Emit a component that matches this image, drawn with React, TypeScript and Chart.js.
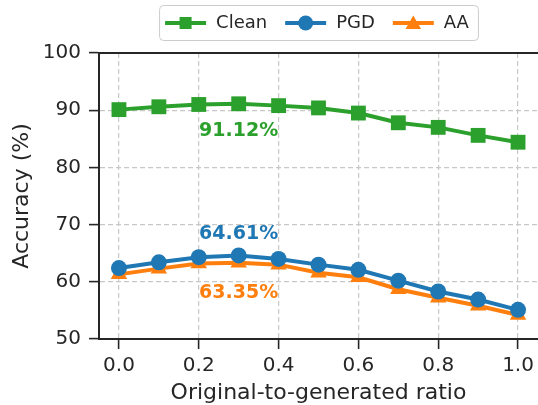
import React, { useEffect, useRef } from 'react';
import { Chart, registerables } from 'chart.js';

Chart.register(...registerables);

const ratios = [0.0, 0.1, 0.2, 0.3, 0.4, 0.5, 0.6, 0.7, 0.8, 0.9, 1.0];
const cleanAcc = [90.1, 90.6, 91.0, 91.12, 90.8, 90.4, 89.5, 87.8, 87.0, 85.6, 84.4];
const pgdAcc = [62.4, 63.4, 64.3, 64.61, 64.0, 63.0, 62.1, 60.2, 58.3, 56.9, 55.1];
const aaAcc = [61.3, 62.3, 63.2, 63.35, 63.0, 61.6, 60.8, 58.7, 57.2, 55.8, 54.2];
const xTickValues = [0.0, 0.2, 0.4, 0.6, 0.8, 1.0];
const yTickValues = [50, 60, 70, 80, 90, 100];
const seriesNames = ['Clean', 'PGD', 'AA'];
const seriesColors = ['#2ca02c', '#1f77b4', '#ff7f0e'];
const seriesMarkers = ['rect', 'circle', 'triangle'];
const peakLabels = ['91.12%', '64.61%', '63.35%'];
const xTitle = 'Original-to-generated ratio';
const yTitle = 'Accuracy (%)';

const FONT = '"DejaVu Sans", sans-serif';
const TEXT = '#262626';

function drawMarker(ctx: CanvasRenderingContext2D, kind: string, x: number, y: number, r: number, color: string) {
  ctx.save();
  ctx.fillStyle = color;
  ctx.beginPath();
  if (kind === 'rect') {
    const s = r * Math.SQRT1_2;
    ctx.rect(x - s, y - s, 2 * s, 2 * s);
  } else if (kind === 'circle') {
    ctx.arc(x, y, r, 0, Math.PI * 2);
  } else {
    for (let i = 0; i < 3; i++) {
      const a = (i * 2 * Math.PI) / 3;
      const px = x + Math.sin(a) * r;
      const py = y - Math.cos(a) * r;
      if (i === 0) ctx.moveTo(px, py);
      else ctx.lineTo(px, py);
    }
    ctx.closePath();
  }
  ctx.fill();
  ctx.restore();
}

const decorPlugin = {
  id: 'decor',
  afterDraw(chart: any) {
    const ctx: CanvasRenderingContext2D = chart.ctx;
    const area = chart.chartArea;
    // top spine
    ctx.save();
    ctx.strokeStyle = TEXT;
    ctx.lineWidth = 2;
    ctx.beginPath();
    ctx.moveTo(area.left - 1, area.top);
    ctx.lineTo(area.right, area.top);
    ctx.stroke();
    ctx.restore();

    // peak annotations
    const offsets = [27, -21, 30];
    chart.data.datasets.forEach((ds: any, i: number) => {
      const vals = ds.data.map((p: any) => p.y);
      let idx = 0;
      vals.forEach((v: number, k: number) => { if (v > vals[idx]) idx = k; });
      const el = chart.getDatasetMeta(i).data[idx];
      ctx.save();
      ctx.font = 'bold 19px ' + FONT;
      ctx.fillStyle = seriesColors[i];
      ctx.textAlign = 'center';
      ctx.textBaseline = 'middle';
      ctx.fillText(peakLabels[i], el.x, el.y + offsets[i]);
      ctx.restore();
    });

    // legend
    ctx.save();
    ctx.font = '18px ' + FONT;
    const lineLen = 41;
    const padL = 6, padR = 9, gapText = 10, gapItem = 18;
    const widths = seriesNames.map((n) => ctx.measureText(n).width);
    let total = padL + padR;
    widths.forEach((w, i) => { total += lineLen + gapText + w + (i < widths.length - 1 ? gapItem : 0); });
    const cx = (area.left + area.right) / 2;
    const bx = cx - total / 2;
    const by = 5, bh = 35;
    ctx.fillStyle = 'rgba(255,255,255,0.85)';
    ctx.strokeStyle = '#cccccc';
    ctx.lineWidth = 1;
    ctx.beginPath();
    (ctx as any).roundRect(bx + 0.5, by + 0.5, total, bh, 4);
    ctx.fill();
    ctx.stroke();
    let x = bx + padL;
    const cy = by + bh / 2 + 0.5;
    seriesNames.forEach((n, i) => {
      ctx.strokeStyle = seriesColors[i];
      ctx.lineWidth = 4;
      ctx.beginPath();
      ctx.moveTo(x, cy);
      ctx.lineTo(x + lineLen, cy);
      ctx.stroke();
      const r = seriesMarkers[i] === 'rect' ? 8.5 : seriesMarkers[i] === 'circle' ? 7.5 : 9;
      drawMarker(ctx, seriesMarkers[i], x + lineLen / 2, cy + (seriesMarkers[i] === 'triangle' ? 1.5 : 0), r, seriesColors[i]);
      ctx.fillStyle = TEXT;
      ctx.textAlign = 'left';
      ctx.textBaseline = 'middle';
      ctx.fillText(n, x + lineLen + gapText, cy);
      x += lineLen + gapText + widths[i] + gapItem;
    });
    ctx.restore();
  },
};

export default function App() {
  const ref = useRef<HTMLCanvasElement | null>(null);

  useEffect(() => {
    document.body.style.margin = '0';
    const canvas = ref.current;
    if (!canvas) return;
    const series = [cleanAcc, pgdAcc, aaAcc];
    const radii = [10.5, 8, 9.5];
    const chart = new Chart(canvas, {
      type: 'line',
      data: {
        datasets: series.map((vals, i) => ({
          label: seriesNames[i],
          data: ratios.map((r, k) => ({ x: r, y: vals[k] })),
          borderColor: seriesColors[i],
          backgroundColor: seriesColors[i],
          borderWidth: 4,
          pointStyle: seriesMarkers[i] as any,
          pointRadius: radii[i],
          pointBorderWidth: 0,
          pointBackgroundColor: seriesColors[i],
          tension: 0,
          clip: false as any,
        })),
      },
      options: {
        responsive: false,
        animation: false,
        devicePixelRatio: 1,
        layout: { autoPadding: false, padding: { top: 53, left: 0, right: 0, bottom: 0 } },
        plugins: { legend: { display: false }, tooltip: { enabled: false } },
        scales: {
          x: {
            type: 'linear',
            min: -0.05,
            max: 1.05,
            afterBuildTicks: (s: any) => { s.ticks = xTickValues.map((v) => ({ value: v })); },
            afterFit: (s: any) => { s.height = 66; s.paddingLeft = 0; s.paddingRight = 0; },
            ticks: {
              callback: (v: any) => Number(v).toFixed(1),
              font: { family: FONT, size: 20 },
              color: TEXT,
              padding: 5,
              maxRotation: 0,
            },
            grid: {
              color: '#c8c8c8',
              lineWidth: 1.2,
              tickLength: 10,
              tickColor: TEXT,
              tickWidth: 1.6,
            },
            border: { display: true, color: TEXT, width: 2, dash: [5, 3] },
            title: {
              display: true,
              text: xTitle,
              font: { family: FONT, size: 22, lineHeight: 1 },
              color: TEXT,
              padding: { top: 0, bottom: 1 },
            },
          },
          y: {
            type: 'linear',
            min: 50,
            max: 100,
            afterBuildTicks: (s: any) => { s.ticks = yTickValues.map((v) => ({ value: v })); },
            afterFit: (s: any) => { s.width = 99; },
            ticks: {
              callback: (v: any) => String(v),
              font: { family: FONT, size: 20 },
              color: TEXT,
              padding: 8,
            },
            grid: {
              color: '#c8c8c8',
              lineWidth: 1.2,
              tickLength: 10,
              tickColor: TEXT,
              tickWidth: 1.6,
            },
            border: { display: true, color: TEXT, width: 2, dash: [5, 3] },
            title: {
              display: true,
              text: yTitle,
              font: { family: FONT, size: 22, lineHeight: 1 },
              color: TEXT,
              padding: { top: 11, bottom: 0 },
            },
          },
        },
      },
      plugins: [decorPlugin],
    });
    return () => chart.destroy();
  }, []);

  return (
    <div style={{ width: 538, height: 405 }}>
      <canvas ref={ref} width={538} height={405} style={{ display: 'block', width: 538, height: 405 }} />
    </div>
  );
}
